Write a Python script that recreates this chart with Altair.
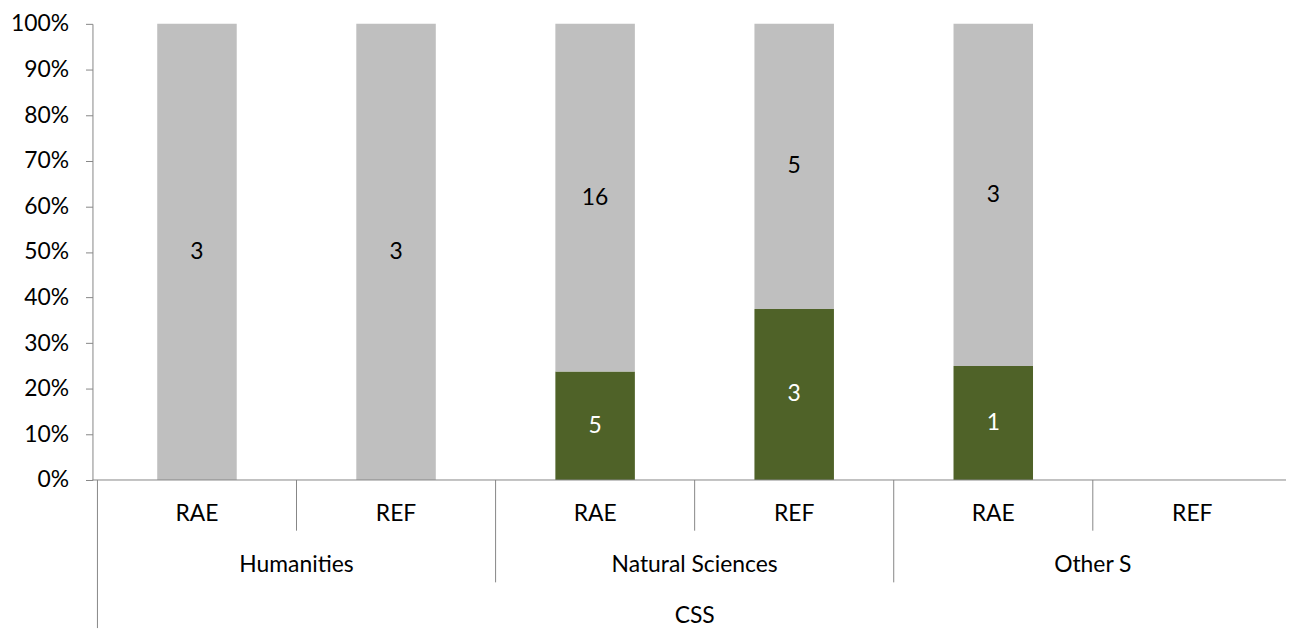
import altair as alt
import pandas as pd

groups = ["Humanities", "Natural Sciences", "Other S"]
exercises = ["RAE", "REF"]
top_label = "CSS"
series = ["Green", "Grey"]
green_counts = [0, 0, 5, 3, 1, 0]
grey_counts = [3, 3, 16, 5, 3, 0]
y_ticks = [0, 0.1, 0.2, 0.3, 0.4, 0.5, 0.6, 0.7, 0.8, 0.9, 1.0]

FONT = "Lato"
FS = 23
AXIS_COLOR = "#868686"
GREEN = "#4F6228"
GREY = "#BFBFBF"

# plot geometry (pixels)
W_VIEW = 1201
H = 459
SLOT_PX = 202  # width of one category slot; the last slot runs past the page edge

# ---- build tables ----
bar_rows = []
slot_rows = []
i = 0
for g in groups:
    for e in exercises:
        gc, rc = green_counts[i], grey_counts[i]
        total = gc + rc
        slot_rows.append({"pos": i + 0.5, "label": e})
        if total > 0:
            lo = 0.0
            for s, c in zip(series, [gc, rc]):
                hi = lo + c / total
                bar_rows.append({"pos": i + 0.5, "series": s, "lo": lo, "hi": hi,
                                 "mid": (lo + hi) / 2, "count": c})
                lo = hi
        i += 1
bar_df = pd.DataFrame(bar_rows)
slot_df = pd.DataFrame(slot_rows)
n_slots = i
group_df = pd.DataFrame({"pos": [gi * len(exercises) + len(exercises) / 2 for gi in range(len(groups))],
                         "label": groups})
top_df = pd.DataFrame({"pos": [n_slots / 2], "label": [top_label]})

tier1_b = pd.DataFrame({"b": [gi * len(exercises) + k for gi in range(len(groups)) for k in range(1, len(exercises))]})
tier2_b = pd.DataFrame({"b": [gi * len(exercises) for gi in range(1, len(groups))]})
outer_b = pd.DataFrame({"b": [0, n_slots]})

xscale = alt.Scale(domain=[0, W_VIEW / SLOT_PX], nice=False, zero=False)
yscale = alt.Scale(domain=[0, 1], nice=False)
yaxis = alt.Axis(format="%", values=y_ticks, tickSize=7, tickColor=AXIS_COLOR,
                 domainColor=AXIS_COLOR, labelFont=FONT, labelFontSize=FS,
                 labelColor="#000000", labelPadding=17, grid=False, title=None)

bars = alt.Chart(bar_df).mark_bar(size=80).encode(
    x=alt.X("pos:Q", scale=xscale, axis=None),
    y=alt.Y("lo:Q", scale=yscale, axis=yaxis),
    y2="hi:Q",
    color=alt.Color("series:N", scale=alt.Scale(domain=series, range=[GREEN, GREY]), legend=None),
)

bar_text = alt.Chart(bar_df).transform_filter("datum.count > 0").mark_text(
    font=FONT, fontSize=FS, baseline="middle", align="center"
).encode(
    x=alt.X("pos:Q", scale=xscale, axis=None),
    y=alt.Y("mid:Q", scale=yscale, axis=yaxis),
    text="count:Q",
    color=alt.condition(alt.datum.series == "Green", alt.value("#FFFFFF"), alt.value("#000000")),
)

baseline = alt.Chart(top_df).mark_rule(color=AXIS_COLOR, strokeWidth=1).encode(
    x=alt.value(0), x2=alt.value(W_VIEW), y=alt.value(H)
)


def tier_text(df, ypix):
    return alt.Chart(df).mark_text(font=FONT, fontSize=FS, baseline="middle", align="center",
                                   color="#000000").encode(
        x=alt.X("pos:Q", scale=xscale, axis=None),
        y=alt.value(ypix),
        text="label:N",
    )


def tier_rule(df, yend):
    return alt.Chart(df).transform_filter(f"datum.b < {n_slots}").mark_rule(
        color=AXIS_COLOR, strokeWidth=1).encode(
        x=alt.X("b:Q", scale=xscale, axis=None),
        y=alt.value(H),
        y2=alt.value(yend),
    )


chart = alt.layer(
    bars,
    bar_text,
    baseline,
    tier_rule(tier1_b, 510),
    tier_rule(tier2_b, 562),
    tier_rule(outer_b, 608),
    tier_text(slot_df, 493),
    tier_text(group_df, 545),
    tier_text(top_df, 596),
).properties(
    width=W_VIEW,
    height=H,
    autosize=alt.AutoSizeParams(type="none"),
    padding={"left": 85, "top": 14, "right": 0, "bottom": 149},
    background="#FFFFFF",
).configure_view(stroke=None)

chart.save("out.html", embed_options={"renderer": "svg", "actions": False})
